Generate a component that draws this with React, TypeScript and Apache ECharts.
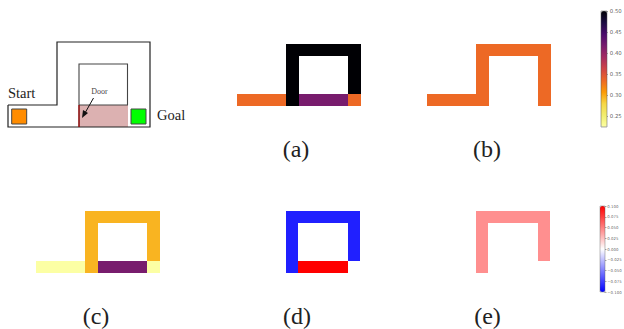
import React, { useEffect, useRef } from "react";
import * as echarts from "echarts";

const _ = null;
const rowsIdx = [0, 1, 2, 3, 4];
const colsIdx = [0, 1, 2, 3, 4, 5, 6, 7, 8, 9];

const panelA = [
  [_, _, _, _, 0.5, 0.5, 0.5, 0.5, 0.5, 0.5],
  [_, _, _, _, 0.5, _, _, _, _, 0.5],
  [_, _, _, _, 0.5, _, _, _, _, 0.5],
  [_, _, _, _, 0.5, _, _, _, _, 0.5],
  [0.335, 0.335, 0.335, 0.335, 0.5, 0.4175, 0.4175, 0.4175, 0.4175, 0.335],
];
const panelB = [
  [_, _, _, _, 0.335, 0.335, 0.335, 0.335, 0.335, 0.335],
  [_, _, _, _, 0.335, _, _, _, _, 0.335],
  [_, _, _, _, 0.335, _, _, _, _, 0.335],
  [_, _, _, _, 0.335, _, _, _, _, 0.335],
  [0.335, 0.335, 0.335, 0.335, 0.335, _, _, _, _, 0.335],
];
const panelC = [
  [_, _, _, _, 0.296, 0.296, 0.296, 0.296, 0.296, 0.296],
  [_, _, _, _, 0.296, _, _, _, _, 0.296],
  [_, _, _, _, 0.296, _, _, _, _, 0.296],
  [_, _, _, _, 0.296, _, _, _, _, 0.296],
  [0.225, 0.225, 0.225, 0.225, 0.296, 0.4175, 0.4175, 0.4175, 0.4175, 0.225],
];
const panelD = [
  [_, _, _, _, -0.0875, -0.0875, -0.0875, -0.0875, -0.0875, -0.0875],
  [_, _, _, _, -0.0875, _, _, _, _, -0.0875],
  [_, _, _, _, -0.0875, _, _, _, _, -0.0875],
  [_, _, _, _, -0.0875, _, _, _, _, -0.0875],
  [0, 0, 0, 0, -0.0875, 0.1, 0.1, 0.1, 0.1, 0],
];
const panelE = [
  [_, _, _, _, 0.044, 0.044, 0.044, 0.044, 0.044, 0.044],
  [_, _, _, _, 0.044, _, _, _, _, 0.044],
  [_, _, _, _, 0.044, _, _, _, _, 0.044],
  [_, _, _, _, 0.044, _, _, _, _, 0.044],
  [0, 0, 0, 0, 0.044, 0, 0, 0, 0, 0],
];

const captions = ["(a)", "(b)", "(c)", "(d)", "(e)"];
const infernoTicks = [0.25, 0.3, 0.35, 0.4, 0.45, 0.5];
const diffTicks = [-0.1, -0.075, -0.05, -0.025, 0, 0.025, 0.05, 0.075, 0.1];
const infernoColors = [
  "#fcffa4", "#f1ed6f", "#f6d746", "#fb9b06", "#ed6925",
  "#cf4446", "#a52c60", "#781c6d", "#4a0c6b", "#1b0c41", "#000004",
];
const diffColors = ["#0000ff", "#ffffff", "#ff0000"];

const panels = [
  { data: panelA, left: 237, top: 44 },
  { data: panelB, left: 427, top: 44 },
  { data: panelC, left: 36, top: 211 },
  { data: panelD, left: 236.6, top: 211 },
  { data: panelE, left: 426.6, top: 211 },
];

const cells = (m: (number | null)[][]) =>
  m.flatMap((row, y) =>
    row.flatMap((v, x) => (v === null ? [] : [[x, y, v]]))
  );

const SERIF = "'Liberation Serif', serif";
const WALL = "#222222";

const captionAt = (s: string, x: number, y: number) => ({
  type: "text",
  x,
  y,
  style: { text: s, fill: "#222", font: `24px ${SERIF}`, align: "center", verticalAlign: "middle" },
});

// Cell edges are snapped to whole pixels so neighbouring cells share an edge with no seam.
const renderCell = (_params: any, api: any) => {
  const c = api.coord([api.value(0), api.value(1)]);
  const s = api.size([1, 1]);
  const x0 = Math.round(c[0] - s[0] / 2);
  const x1 = Math.round(c[0] + s[0] / 2);
  const y0 = Math.round(c[1] - s[1] / 2);
  const y1 = Math.round(c[1] + s[1] / 2);
  return {
    type: "rect",
    shape: { x: x0, y: y0, width: x1 - x0, height: y1 - y0 },
    style: { fill: api.visual("color") },
  };
};

function buildOption() {
  const grids: any[] = panels.map((p) => ({ left: p.left, top: p.top, width: 123.5, height: 62 }));
  const xAxes: any[] = panels.map((_p, i) => ({
    type: "category", gridIndex: i, data: colsIdx, show: false,
  }));
  const yAxes: any[] = panels.map((_p, i) => ({
    type: "category", gridIndex: i, data: rowsIdx, inverse: true, show: false,
  }));
  const series: any[] = panels.map((p, i) => ({
    type: "custom",
    xAxisIndex: i,
    yAxisIndex: i,
    data: cells(p.data),
    silent: true,
    renderItem: renderCell,
    encode: { x: 0, y: 1 },
  }));

  const addBarAxis = (
    left: number, top: number, height: number, min: number, max: number,
    ticks: number[], fmt: (v: number) => string, size: number, margin: number
  ) => {
    const i = grids.length;
    grids.push({ left, top, width: 1, height });
    xAxes.push({ type: "value", gridIndex: i, show: false, min: 0, max: 1 });
    yAxes.push({
      type: "value", gridIndex: i, position: "right", min, max,
      splitLine: { show: false },
      axisLine: { show: false },
      axisTick: { show: true, length: 2, customValues: ticks, lineStyle: { color: "#555", width: 0.5 } },
      axisLabel: {
        show: true, customValues: ticks, margin, fontSize: size, color: "#555", opacity: 0.95,
        fontFamily: "'DejaVu Sans'", formatter: fmt, showMinLabel: true, showMaxLabel: true,
      },
    });
    series.push({ type: "scatter", xAxisIndex: i, yAxisIndex: i, data: [], silent: true });
  };
  addBarAxis(606, 11, 116, 0.225, 0.5, infernoTicks, (v) => v.toFixed(2), 5.4, 3.5);
  addBarAxis(604.5, 206, 86, -0.1, 0.1, diffTicks, (v) => (v < 0 ? "\u2212" : "") + Math.abs(v).toFixed(3), 3.9, 2.5);

  return {
    animation: false,
    backgroundColor: "#ffffff",
    tooltip: { show: false },
    grid: grids,
    xAxis: xAxes,
    yAxis: yAxes,
    series,
    visualMap: [
      {
        type: "continuous", seriesIndex: [0, 1, 2], dimension: 2, min: 0.225, max: 0.5, show: true,
        calculable: false, text: null, left: 601, top: 11, itemWidth: 6, itemHeight: 116,
        padding: 0, showLabel: false, inRange: { color: infernoColors }, hoverLink: false,
        borderWidth: 0,
      },
      {
        type: "continuous", seriesIndex: [3, 4], dimension: 2, min: -0.1, max: 0.1, show: true,
        calculable: false, text: null, left: 600, top: 206, itemWidth: 5, itemHeight: 86,
        padding: 0, showLabel: false, inRange: { color: diffColors }, hoverLink: false,
        borderWidth: 0,
      },
    ],
    graphic: [
      { type: "rect", z: 100, shape: { x: 601, y: 11, width: 6, height: 116 }, style: { fill: "none", stroke: "#555", lineWidth: 0.5 } },
      { type: "rect", z: 100, shape: { x: 600, y: 206, width: 5, height: 86 }, style: { fill: "none", stroke: "#555", lineWidth: 0.4 } },
      { type: "rect", shape: { x: 79, y: 105, width: 49, height: 22 }, style: { fill: "#dcb1b1" } },
      { type: "polyline", shape: { points: [[8, 105], [57, 105], [57, 42], [150, 42], [150, 127], [8, 127], [8, 105]] }, style: { stroke: WALL, lineWidth: 1.2, fill: "none" } },
      { type: "polyline", shape: { points: [[79, 105], [79, 64], [127.5, 64], [127.5, 105], [79, 105]] }, style: { stroke: "#444", lineWidth: 1.1, fill: "none" } },
      { type: "line", shape: { x1: 79, y1: 105, x2: 79, y2: 127 }, style: { stroke: "#8b1010", lineWidth: 1.6 } },
      { type: "rect", shape: { x: 11.7, y: 109, width: 15, height: 15 }, style: { fill: "#ff8c00", stroke: "#444", lineWidth: 1 } },
      { type: "rect", shape: { x: 131, y: 109, width: 15, height: 15 }, style: { fill: "#00ff00", stroke: "#444", lineWidth: 1 } },
      { type: "line", shape: { x1: 93.5, y1: 98, x2: 85, y2: 113 }, style: { stroke: "#111", lineWidth: 1 } },
      { type: "polygon", shape: { points: [[82, 118], [83, 110], [88, 113]] }, style: { fill: "#111" } },
      { type: "text", x: 8, y: 93, style: { text: "Start", fill: "#222", font: `14.5px ${SERIF}`, verticalAlign: "middle" } },
      { type: "text", x: 157, y: 115, style: { text: "Goal", fill: "#222", font: `14.5px ${SERIF}`, verticalAlign: "middle" } },
      { type: "text", x: 99.5, y: 91, style: { text: "Door", fill: "#333", opacity: 0.95, font: `8px ${SERIF}`, align: "center", verticalAlign: "middle" } },
      captionAt(captions[0], 296, 149),
      captionAt(captions[1], 487, 149),
      captionAt(captions[2], 96, 316),
      captionAt(captions[3], 297, 316),
      captionAt(captions[4], 487.5, 316),
    ],
  };
}

export default function App() {
  const ref = useRef<HTMLDivElement>(null);
  useEffect(() => {
    const chart = echarts.init(ref.current!, undefined, { renderer: "svg" });
    chart.setOption(buildOption() as any);
    return () => chart.dispose();
  }, []);
  return <div ref={ref} style={{ position: "absolute", left: 0, top: 0, width: 624, height: 329 }} />;
}
